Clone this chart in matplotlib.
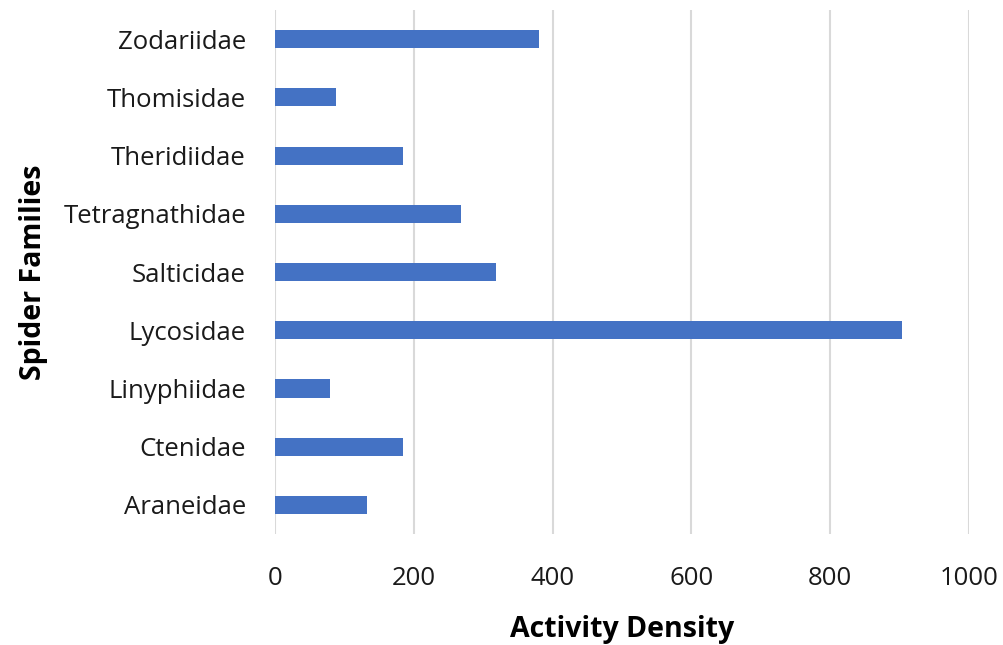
import matplotlib
matplotlib.use('Agg')
import matplotlib.pyplot as plt

families = ['Araneidae', 'Ctenidae', 'Linyphiidae', 'Lycosidae', 'Salticidae',
            'Tetragnathidae', 'Theridiidae', 'Thomisidae', 'Zodariidae']
density = [133, 185, 79, 904, 318, 268, 185, 88, 381]

plt.rcParams['font.family'] = ['Open Sans', 'DejaVu Sans']

fig = plt.figure(figsize=(10.04, 6.45), dpi=100)
ax = fig.add_axes([0.274, 0.172, 0.691, 0.8125])

ax.barh(families, density, height=0.31, color='#4472C4', zorder=3)

ax.set_xlim(0, 1000)
ax.set_ylim(-0.5, len(families) - 0.5)
ax.set_xticks([0, 200, 400, 600, 800, 1000])
ax.grid(axis='x', color='#d9d9d9', linewidth=1.5, zorder=0)
for s in ax.spines.values():
    s.set_visible(False)
ax.tick_params(axis='both', length=0, labelsize=18.5, colors='#1a1a1a')
ax.tick_params(axis='x', pad=23)
ax.tick_params(axis='y', pad=21)

ax.set_xlabel('Activity Density', fontsize=20.5, fontweight='bold', labelpad=17)
ax.set_ylabel('Spider Families', fontsize=20.5, fontweight='bold', labelpad=11)

fig.savefig('out.png', dpi=100)
